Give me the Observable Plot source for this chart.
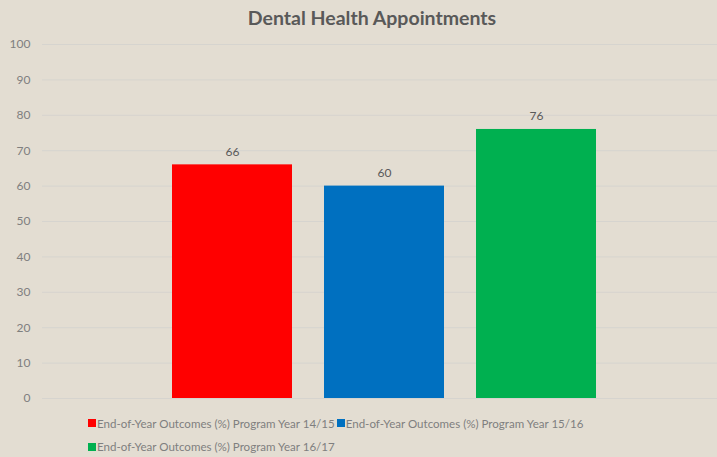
<!DOCTYPE html>
<html><head><meta charset="utf-8">
<script src="https://cdn.jsdelivr.net/npm/d3@7"></script>
<script src="https://cdn.jsdelivr.net/npm/@observablehq/plot@0.6"></script>
<style>
html,body{margin:0;padding:0;background:#e3ddd2;}
body{width:717px;height:457px;overflow:hidden;font-family:Lato,"DejaVu Sans",sans-serif;}
#title{height:36px;line-height:36px;text-align:center;padding-left:27px;box-sizing:border-box;font-size:19.5px;font-weight:bold;color:#595959;}
#legend{padding-left:88px;width:640px;box-sizing:border-box;font-size:11.55px;color:#7f7f7f;line-height:23px;margin-top:0px;}
#legend .item{display:inline-flex;align-items:center;margin-right:2px;white-space:nowrap;}
#legend .sw{width:8px;height:8px;margin-right:1px;display:inline-block;}
</style>
</head><body>
<div id="title">Dental Health Appointments</div>
<div id="chart"></div>
<div id="legend"></div>
<script>
const series = [
  "End-of-Year Outcomes (%) Program Year 14/15",
  "End-of-Year Outcomes (%) Program Year 15/16",
  "End-of-Year Outcomes (%) Program Year 16/17"
];
const values = [66, 60, 76];
const colors = ["#ff0000", "#0070c0", "#00b050"];
const yTicks = [0, 10, 20, 30, 40, 50, 60, 70, 80, 90, 100];

const data = series.map((s, i) => ({series: s, value: values[i]}));

const chart = Plot.plot({
  width: 717,
  height: 375,
  marginLeft: 42,
  marginRight: 0,
  marginTop: 8,
  marginBottom: 13,
  style: {background: "transparent", fontFamily: "Lato, 'DejaVu Sans', sans-serif", fontSize: "12px", color: "#7f7f7f"},
  x: {domain: series, range: [172, 596], paddingInner: 32 / 152, paddingOuter: 0, axis: null},
  y: {domain: [0, 100], ticks: yTicks, label: null, tickSize: 0, tickPadding: 12},
  color: {domain: series, range: colors},
  marks: [
    Plot.ruleY(yTicks, {stroke: "#d6d4cf", strokeWidth: 1}),
    Plot.barY(data, {x: "series", y: "value", fill: "series"}),
    Plot.text(data, {x: "series", y: "value", text: d => String(d.value), dy: -13, fill: "#595959", fontSize: 12}),
    Plot.axisY({ticks: yTicks, tickSize: 0, tickPadding: 12, label: null, fill: "#7f7f7f"})
  ]
});
document.getElementById("chart").appendChild(chart);

const legend = document.getElementById("legend");
series.forEach((s, i) => {
  const item = document.createElement("span");
  item.className = "item";
  const sw = document.createElement("span");
  sw.className = "sw";
  sw.style.background = colors[i];
  item.appendChild(sw);
  item.appendChild(document.createTextNode(s));
  legend.appendChild(item);
});
</script>
</body></html>
